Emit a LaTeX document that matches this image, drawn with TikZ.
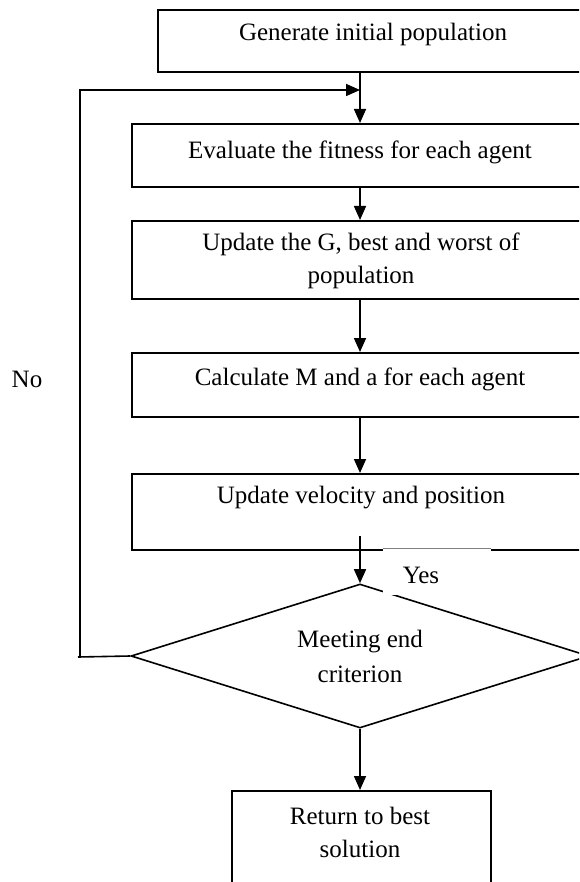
\documentclass[tikz,border=0pt]{standalone}
\usepackage{fontspec}
\setmainfont{Liberation Serif}
\usetikzlibrary{shapes.geometric,arrows.meta}
\begin{document}
\begin{tikzpicture}[x=1pt,y=-1pt,
  every node/.style={font=\fontsize{25}{33}\selectfont},
  stepbox/.style={draw,line width=1.6pt,rectangle,inner sep=0pt,anchor=north west},
  txt/.style={inner sep=0pt,align=center},
  conn/.style={line width=1.6pt,-{Triangle[length=14pt,width=12pt]}},
  plain/.style={line width=1.6pt}]
\useasboundingbox (0,0) rectangle (579,882);
\clip (0,0) rectangle (579,882);
% boxes
\node[stepbox,minimum width=432pt,minimum height=62pt] (b1) at (157,9) {};
\node[txt] (t1) at (373,34) {Generate initial population};
\node[stepbox,minimum width=458pt,minimum height=63pt] (b2) at (131,123) {};
\node[txt] (t2) at (360,152) {Evaluate the fitness for each agent};
\node[stepbox,minimum width=458pt,minimum height=78pt] (b3) at (131,220) {};
\node[txt] (t3) at (361,261) {Update the G, best and worst of\\population};
\node[stepbox,minimum width=458pt,minimum height=64pt] (b4) at (131,352) {};
\node[txt] (t4) at (360,379) {Calculate M and a for each agent};
\node[stepbox,minimum width=458pt,minimum height=76pt] (b5) at (131,473) {};
\node[txt] (t5) at (361,498) {Update velocity and position};
% decision
\node[diamond,draw,line width=1.6pt,aspect=3.18,inner sep=0pt,
      minimum width=458pt,minimum height=144pt,align=center,
      font=\fontsize{25}{35}\selectfont] (d) at (360,656) {Meeting end\\criterion};
% final box
\node[stepbox,minimum width=259pt,minimum height=120pt] (b6) at (231,790) {};
\node[txt] (t6) at (360,832) {Return to best\\solution};
% Yes label patch
\node[fill=white,inner sep=0pt,minimum width=108pt,minimum height=46pt,anchor=north west] (yb) at (383,548.5) {};
\draw[gray,line width=0.6pt] (yb.north west) -- (yb.north east);
\node[txt] (yes) at (421,575) {Yes};
\node[txt] (no) at (27,379) {No};
% connectors
\draw[conn] (b1.south -| t2) -- (b2.north -| t2);
\draw[conn] (b2.south -| t2) -- (b3.north -| t2);
\draw[conn] (b3.south -| t2) -- (b4.north -| t2);
\draw[conn] (b4.south -| t2) -- (b5.north -| t2);
\coordinate (s5) at (360,536);
\draw[conn] (s5) -- (d.north);
\draw[conn] (d.south) -- (b6.north -| d.south);
\coordinate (fl) at (80,657);
\coordinate (fu) at (80,90);
\draw[plain] (d.west) -- (78,657);
\draw[plain] (fl) -- (fu);
\draw[conn] (79,90) -- (fu -| t2);
\end{tikzpicture}
\end{document}
